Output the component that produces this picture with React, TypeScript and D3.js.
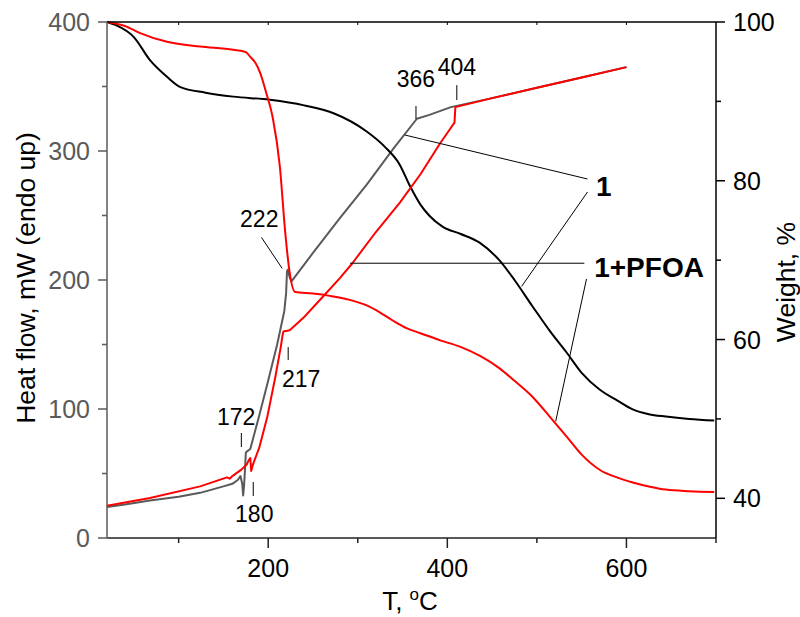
import React from 'react';
import * as d3 from 'd3';

// ---------- data ----------
const xMajorTicks = [200, 400, 600];
const xMinorTicks = [100, 300, 500];
const topTicks = [100, 200, 300, 400, 500, 600];
const hfMajorTicks = [0, 100, 200, 300, 400];
const hfMinorTicks = [50, 150, 250, 350];
const wMajorTicks = [40, 60, 80, 100];
const wMinorTicks = [50, 70, 90];

// DSC of 1 (gray)
const dsc1T = [20, 40, 68, 100, 124, 150, 160, 166, 169, 171, 172, 173, 174, 175, 176, 180, 190, 200, 210, 218, 220, 221, 222, 224, 226, 250, 280, 310, 340, 366, 380, 404, 450, 500, 550, 600];
const dsc1HF = [24, 26, 29, 32, 35, 40, 42, 45, 48, 42, 33, 40, 52, 66, 67, 69, 95, 122, 150, 176, 190, 207, 208, 202, 199, 221, 248, 274, 302, 325, 328, 334, 341, 349, 357, 365];

// DSC of 1+PFOA (red)
const dsc2T = [20, 68, 124, 154, 157, 160, 170, 176, 178, 180, 181, 183, 190, 199, 208, 214, 216, 217, 224, 239, 261, 280, 294, 320, 347, 370, 392, 404, 408, 409, 450, 500, 550, 600];
const dsc2HF = [25, 31, 40, 47, 46, 48, 53, 57, 60, 62, 52, 57, 70, 94, 125, 148, 157, 160, 161, 170.5, 187, 201.5, 213, 237, 260, 282, 306, 318, 322, 334, 341, 349, 357, 365];

// TGA of 1 (black)
const tga1T = [20, 30, 50, 68, 87, 102, 130, 161, 202, 240, 273, 310, 330, 347, 358, 370, 380, 395, 415, 436, 458, 475, 495, 515, 533, 550, 570, 590, 607, 625, 644, 670, 698];
const tga1W = [100, 99.6, 98.1, 95.2, 93.1, 91.8, 91.1, 90.6, 90.2, 89.5, 88.5, 86.2, 84.3, 82, 79.4, 77, 75.6, 74.2, 73.3, 72.2, 70, 67.5, 64.2, 61, 58.4, 55.8, 53.7, 52.3, 51.2, 50.6, 50.3, 50, 49.8];

// TGA of 1+PFOA (red)
const tga2T = [20, 40, 57, 87, 124, 161, 175, 180, 186, 191, 198, 205, 213, 219, 224, 230, 250, 269, 291, 310, 325, 339, 355, 370, 392, 414, 437, 458, 475, 495, 515, 533, 550, 570, 590, 607, 625, 644, 670, 698];
const tga2W = [100, 99.5, 98.6, 97.5, 96.9, 96.5, 96.2, 95.6, 94.8, 93.6, 91, 88, 81.8, 73.5, 68.4, 66.0, 65.8, 65.5, 65.0, 64.3, 63.4, 62.4, 61.4, 60.8, 59.9, 59.1, 57.9, 56.4, 54.8, 52.8, 50.2, 47.8, 45.5, 43.6, 42.6, 42, 41.5, 41.1, 40.9, 40.8];

// peak labels: text, T of label centre, HF of baseline, leader from (T1,HF1) to (T2,HF2)
const peakLabels = ['172', '180', '217', '222', '366', '404'];
const peakLabelT = [164.3, 184.4, 236.8, 190, 365, 410.6];
const peakLabelHF = [87.6, 12.4, 117, 241, 349.6, 359];
const peakLeadT1 = [170, 183.3, 222.3, 192.5, 365, 410.6];
const peakLeadHF1 = [81.4, 43.4, 148, 233, 334.9, 351];
const peakLeadT2 = [170, 183.3, 222.3, 215.6, 365, 410.6];
const peakLeadHF2 = [70.5, 32.6, 138, 209, 324.8, 339.5];

// series labels
const seriesLabels = ['1', '1+PFOA'];
const seriesLabelT = [566, 564];
const seriesLabelHF = [265, 202];

const W = 800, H = 617;
const m = { left: 107, right: 716, top: 22, bottom: 538 };

export default function App() {
  const x = d3.scaleLinear().domain([20, 700]).range([m.left, m.right]);
  const yHF = d3.scaleLinear().domain([0, 400]).range([m.bottom, m.top]);
  const yW = d3.scaleLinear().domain([35, 100]).range([m.bottom, m.top]);

  const lineHF = (ts: number[], vs: number[]) =>
    d3.line<number>().x((_, i) => x(ts[i])).y((v) => yHF(v))(vs) || '';
  const lineW = (ts: number[], vs: number[]) =>
    d3.line<number>().curve(d3.curveMonotoneX).x((_, i) => x(ts[i])).y((v) => yW(v))(vs) || '';

  const font = 'Liberation Sans, Arial, sans-serif';
  const gray = '#5a5a5a';

  // leader lines for series labels (data coords)
  const leaders = [
    { x1: x(352.6), y1: yHF(312.4), x2: x(556.5), y2: yHF(278.3) },
    { x1: x(556.5), y1: yHF(268.2), x2: x(483), y2: yW(66.7) },
    { x1: x(291.4), y1: yHF(213), x2: x(553), y2: yHF(213) },
    { x1: x(555.4), y1: yHF(200.8), x2: x(521), y2: yW(49.7) },
  ];

  return (
    <svg width={W} height={H} style={{ position: 'absolute', left: 0, top: 0, background: '#fff' }} fontFamily={font}>
      <rect width={W} height={H} fill="#fff" />
      {/* curves */}
      <path d={lineHF(dsc1T, dsc1HF)} fill="none" stroke={gray} strokeWidth={2} strokeLinejoin="round" />
      <path d={lineW(tga1T, tga1W)} fill="none" stroke="#000" strokeWidth={2} />
      <path d={lineW(tga2T, tga2W)} fill="none" stroke="#ff0000" strokeWidth={2} />
      <path d={lineHF(dsc2T, dsc2HF)} fill="none" stroke="#ff0000" strokeWidth={2} strokeLinejoin="round" />

      {/* frame top */}
      <line x1={m.left} x2={m.right} y1={m.top} y2={m.top} stroke="#000" strokeWidth={1.5} />
      {topTicks.map((t) => (
        <line key={'tt' + t} x1={x(t)} x2={x(t)} y1={m.top} y2={m.top + 3} stroke="#000" strokeWidth={1} />
      ))}
      {/* bottom axis */}
      <line x1={m.left} x2={m.right} y1={m.bottom} y2={m.bottom} stroke="#222" strokeWidth={1.5} />
      {xMajorTicks.map((t) => (
        <g key={'xm' + t}>
          <line x1={x(t)} x2={x(t)} y1={m.bottom} y2={m.bottom + 10} stroke="#222" strokeWidth={1.5} />
          <text x={x(t)} y={577} textAnchor="middle" fontSize={25} fill="#000">{t}</text>
        </g>
      ))}
      {xMinorTicks.map((t) => (
        <line key={'xn' + t} x1={x(t)} x2={x(t)} y1={m.bottom} y2={m.bottom + 5} stroke="#222" strokeWidth={1.5} />
      ))}
      <line x1={m.right} x2={m.right} y1={m.bottom} y2={m.bottom + 5} stroke="#222" strokeWidth={1.5} />
      <text x={410} y={610} textAnchor="middle" fontSize={26} fill="#000">
        T, <tspan dy={-10} fontSize={17}>o</tspan><tspan dy={10}>C</tspan>
      </text>

      {/* left axis */}
      <line x1={m.left} x2={m.left} y1={m.top} y2={m.bottom} stroke={gray} strokeWidth={1.5} />
      {hfMajorTicks.map((v) => (
        <g key={'hm' + v}>
          <line x1={m.left - 9} x2={m.left} y1={yHF(v)} y2={yHF(v)} stroke={gray} strokeWidth={1.5} />
          <text x={90} y={yHF(v) + 9} textAnchor="end" fontSize={25} fill={gray}>{v}</text>
        </g>
      ))}
      {hfMinorTicks.map((v) => (
        <line key={'hn' + v} x1={m.left - 5} x2={m.left} y1={yHF(v)} y2={yHF(v)} stroke={gray} strokeWidth={1.5} />
      ))}
      <text transform={`translate(35,278) rotate(-90)`} textAnchor="middle" fontSize={26.5} fill="#000">
        Heat flow, mW (endo up)
      </text>

      {/* right axis */}
      <line x1={m.right} x2={m.right} y1={m.top} y2={m.bottom} stroke="#000" strokeWidth={1.5} />
      {wMajorTicks.map((v) => (
        <g key={'wm' + v}>
          <line x1={m.right} x2={m.right + 9} y1={yW(v)} y2={yW(v)} stroke="#000" strokeWidth={1.5} />
          <text x={733} y={yW(v) + 9} textAnchor="start" fontSize={25} fill="#000">{v}</text>
        </g>
      ))}
      {wMinorTicks.map((v) => (
        <line key={'wn' + v} x1={m.right} x2={m.right + 5} y1={yW(v)} y2={yW(v)} stroke="#000" strokeWidth={1.5} />
      ))}
      <text transform={`translate(795,282) rotate(-90)`} textAnchor="middle" fontSize={26.5} fill="#000">
        Weight, %
      </text>

      {/* peak labels */}
      {peakLabels.map((s, i) => (
        <g key={'pl' + i}>
          <line x1={x(peakLeadT1[i])} y1={yHF(peakLeadHF1[i])} x2={x(peakLeadT2[i])} y2={yHF(peakLeadHF2[i])} stroke="#000" strokeWidth={1} />
          <text x={x(peakLabelT[i])} y={yHF(peakLabelHF[i])} textAnchor="middle" fontSize={23} fill="#000">{s}</text>
        </g>
      ))}

      {/* series labels with leaders */}
      {leaders.map((l, i) => (
        <line key={'ld' + i} {...l} stroke="#000" strokeWidth={1} />
      ))}
      {seriesLabels.map((s, i) => (
        <text key={'sl' + i} x={x(seriesLabelT[i])} y={yHF(seriesLabelHF[i])} fontSize={28} fontWeight="bold" fill="#000">{s}</text>
      ))}
    </svg>
  );
}
